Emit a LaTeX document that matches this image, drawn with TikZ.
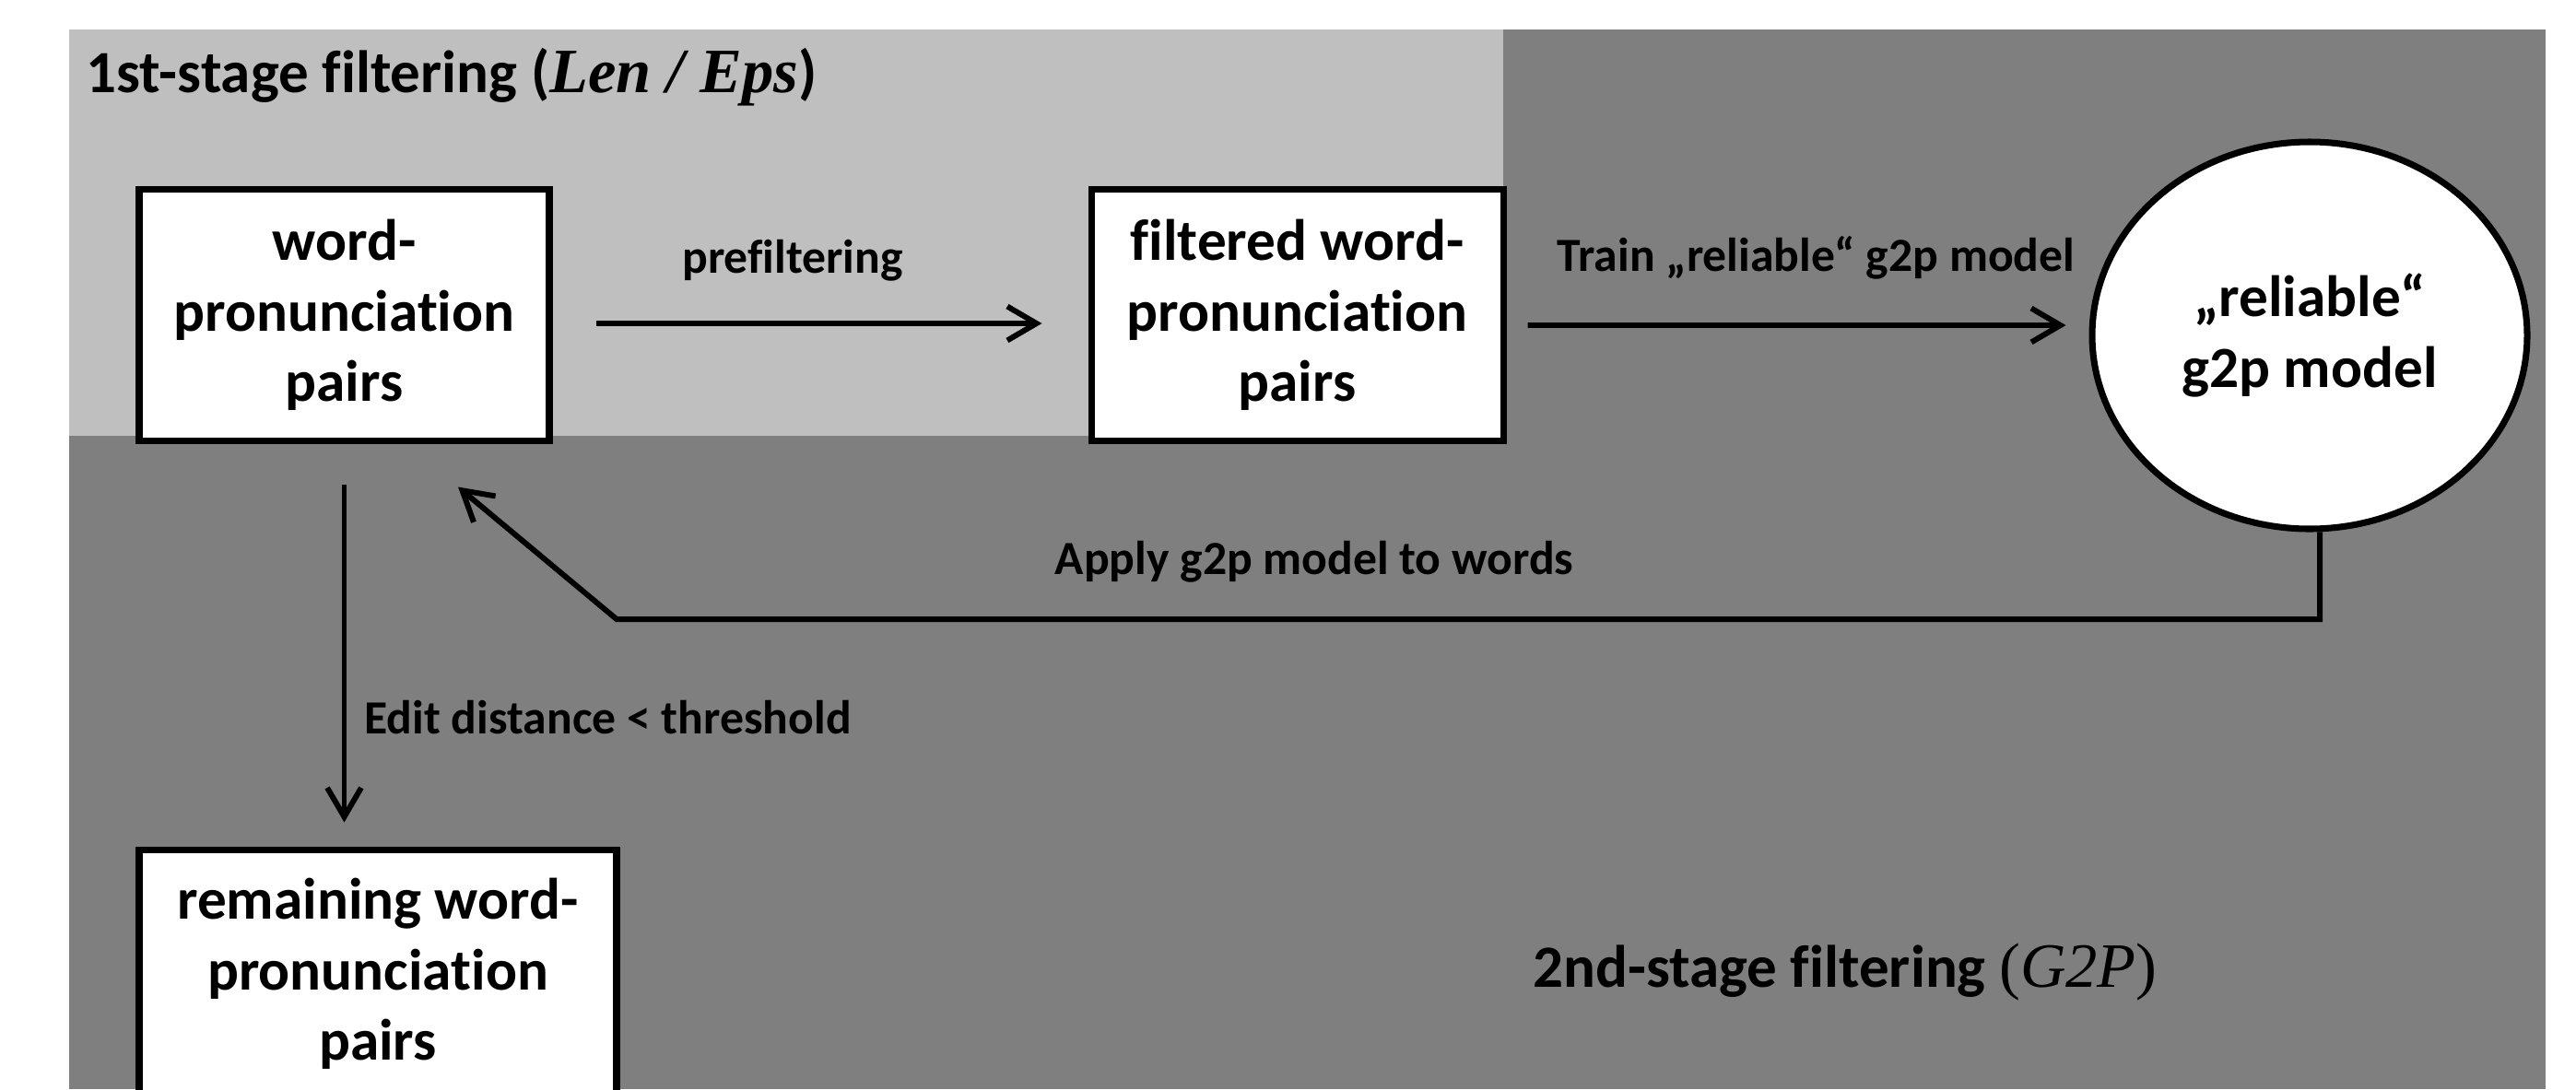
\documentclass[tikz,border=0pt]{standalone}
\usepackage{fontspec}
\setmainfont{Carlito}[RawFeature={-liga;-calt;-clig}]
\newfontfamily\timesit{Liberation Serif}
\usetikzlibrary{arrows.meta, positioning, shapes.geometric}
\definecolor{stageone}{HTML}{BFBFBF}
\definecolor{stagetwo}{HTML}{7F7F7F}

\begin{document}
\begin{tikzpicture}[
    pairbox/.style={draw, line width=2pt, fill=white, align=center, inner sep=0pt,
        font=\fontsize{18}{21.8}\selectfont\bfseries},
    modelnode/.style={pairbox, ellipse, minimum width=4.72cm, minimum height=4.20cm},
    flowarrow/.style={line width=1.7pt, -{Straight Barb[length=9pt, width=10.5pt]}},
    steplabel/.style={inner sep=0pt, font=\fontsize{14.7}{17}\selectfont\bfseries},
    stagetitle/.style={inner sep=0pt, font=\fontsize{18.5}{22}\selectfont\bfseries}
]
\useasboundingbox (0,0) rectangle (27.95,11.82);
\clip (0,0) rectangle (27.95,11.82);

% two filtering stages as backgrounds
\fill[stagetwo] (0.75,0) rectangle (27.62,11.50);
\fill[stageone] (0.75,7.09) rectangle (16.31,11.50);

\node[stagetitle, anchor=west] (first) at (0.93,10.98) {1st-stage filtering ({\timesit\itshape\fontsize{19.5}{22}\selectfont Len / Eps})};
\node[stagetitle] (second) at (20.02,1.27) {2nd-stage filtering {\timesit\mdseries\fontsize{19.5}{22}\selectfont(\textit{G2P})}};

% data and model
\node[pairbox, minimum width=4.45cm, minimum height=2.73cm] (pairs) at (3.735,8.40) {word-\\pronunciation\\pairs};
\node[pairbox, minimum width=4.47cm, minimum height=2.73cm] (filtered) at (14.075,8.40) {filtered word-\\pronunciation\\pairs};
\node[modelnode] (model) at (25.06,8.18) {„reliable“\\g2p model};
\node[pairbox, minimum width=5.18cm, minimum height=2.70cm] (remaining) at (4.10,1.25) {remaining word-\\pronunciation\\pairs};

% flow
\draw[flowarrow, shorten <=4.7mm, shorten >=5mm] ([yshift=-0.9mm]pairs.east) -- ([yshift=-0.9mm]filtered.west)
    node[steplabel, midway, yshift=6.8mm, xshift=-3mm] {prefiltering};
\draw[flowarrow, shorten <=2.3mm, shorten >=2.5mm] ([yshift=-1.1mm]filtered.east) -- ([yshift=1.1mm]model.west)
    node[steplabel, midway, yshift=7.3mm, xshift=2mm] {Train „reliable“ g2p model};

\coordinate (turn) at (6.69,5.10);
\coordinate (back) at ([xshift=12.35mm, yshift=-4.65mm]pairs.south);
\draw[flowarrow] (model.-87) |- (turn) -- (back);
\node[steplabel] (applylabel) at (14.26,5.72) {Apply g2p model to words};

\draw[flowarrow, shorten <=4.4mm, shorten >=2.6mm] (pairs.south) -- (pairs.south |- remaining.north)
    node[steplabel, pos=0.68, anchor=west, xshift=1.9mm] {Edit distance < threshold};
\end{tikzpicture}
\end{document}
